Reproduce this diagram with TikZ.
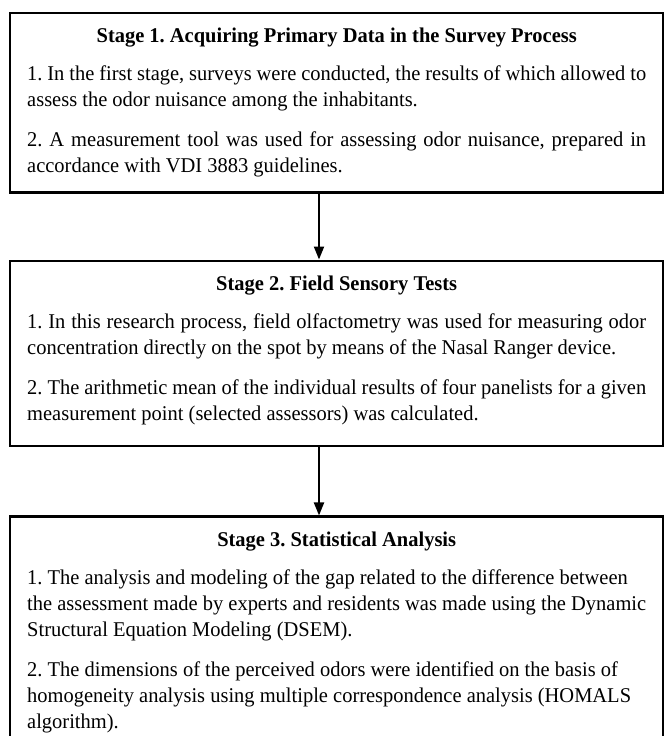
\documentclass[tikz,border=0pt]{standalone}
\usepackage{fontspec}
\setmainfont{Liberation Serif}[FakeStretch=0.975]
\usetikzlibrary{positioning,arrows.meta}

\tikzset{
  stagebox/.style={draw, line width=2.4pt, text width=619pt, inner xsep=17pt,
    inner ysep=15pt, align=justify, anchor=north west,
    font=\fontsize{21}{26}\selectfont\frenchspacing},
  flow/.style={-{Triangle[length=13pt,width=10pt]}, line width=2pt},
}
\newcommand{\stagetitle}[1]{{\centering\bfseries #1\par}\vspace{12pt}}
\newcommand{\stagegap}{\par\vspace{14pt}}
\newcommand{\stagepad}[1]{\rule[-#1]{0pt}{#1}}

\begin{document}
\begin{tikzpicture}[x=1pt,y=1pt]
\useasboundingbox (0,0) rectangle (665,-736);
% stages
\node[stagebox] (s1) at (9,-12) {\stagetitle{Stage 1. Acquiring Primary Data in the Survey Process}
1. In the first stage, surveys were conducted, the results of which allowed to\linebreak
assess the odor nuisance among the inhabitants.\stagegap
2. A measurement tool was used for assessing odor nuisance, prepared in\linebreak
accordance with VDI 3883 guidelines.};
\node[stagebox, below=66 of s1.south west, anchor=north west] (s2) {\stagetitle{Stage 2. Field Sensory Tests}
1. In this research process, field olfactometry was used for measuring odor\linebreak
concentration directly on the spot by means of the Nasal Ranger device.\stagegap
2. The arithmetic mean of the individual results of four panelists for a given\linebreak
measurement point (selected assessors) was calculated.\stagepad{11pt}};
\node[stagebox, below=68 of s2.south west, anchor=north west] (s3) {\stagetitle{Stage 3. Statistical Analysis}
1. The analysis and modeling of the gap related to the difference between\newline
the assessment made by experts and residents was made using the Dynamic\newline
Structural Equation Modeling (DSEM).\stagegap
2. The dimensions of the perceived odors were identified on the basis of\newline
homogeneity analysis using multiple correspondence analysis (HOMALS\newline
algorithm).\stagepad{30pt}};
% arrows
\coordinate (ax) at (319,0);
\draw[flow] (s1.south -| ax) -- (s2.north -| ax);
\draw[flow] (s2.south -| ax) -- (s3.north -| ax);
\end{tikzpicture}
\end{document}
